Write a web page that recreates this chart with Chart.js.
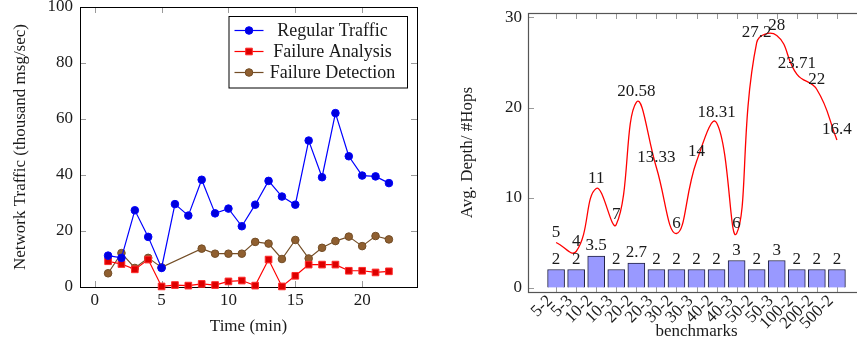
<!DOCTYPE html>
<html>
<head>
<meta charset="utf-8">
<script src="https://cdn.jsdelivr.net/npm/chart.js@4.4.1/dist/chart.umd.min.js"></script>
<style>
    html, body { margin: 0; padding: 0; background: #fff; overflow: hidden; width: 857px; height: 343px; }
    #trafficChart { position: absolute; left: 0; top: 0; }
    #depthChart { position: absolute; left: 440px; top: 0; }
</style>
</head>
<body>
<canvas id="trafficChart" width="430" height="343"></canvas>
<canvas id="depthChart" width="430" height="343"></canvas>
<script>
// ---- left chart data ----
const seriesNames = ['Regular Traffic', 'Failure Analysis', 'Failure Detection'];
const timeMin = [1, 2, 3, 4, 5, 6, 7, 8, 9, 10, 11, 12, 13, 14, 15, 16, 17, 18, 19, 20, 21, 22];
const regularTraffic = [11.2, 10.4, 27.4, 17.9, 6.8, 29.6, 25.5, 38.3, 26.3, 28.0, 21.7, 29.4, 37.9, 32.3, 29.4, 52.3, 39.2, 62.1, 46.7, 39.8, 39.5, 37.1];
const failureAnalysis = [9.2, 8.2, 6.3, 9.8, 0.2, 0.7, 0.5, 1.1, 0.7, 2.0, 2.3, 0.5, 9.8, 0.2, 4.0, 8.0, 8.0, 8.0, 5.8, 5.8, 5.2, 5.6];
const detectionMin = [1, 2, 3, 4, 5, 8, 9, 10, 11, 12, 13, 14, 15, 16, 17, 18, 19, 20, 21, 22];
const failureDetection = [4.9, 12.1, 6.8, 10.4, 7.0, 13.7, 11.9, 11.9, 11.9, 16.1, 15.5, 10.0, 16.8, 10.2, 14.0, 16.4, 18.0, 14.6, 18.2, 17.0];
const timeTicks = [0, 5, 10, 15, 20];
const trafficTicks = [0, 20, 40, 60, 80, 100];

// ---- right chart data ----
const benchmarks = ['5-2', '5-3', '10-2', '10-3', '20-2', '20-3', '30-2', '30-3', '40-2', '40-3', '50-2', '50-3', '100-2', '200-2', '500-2'];
const hops = [2, 2, 3.5, 2, 2.7, 2, 2, 2, 2, 3, 2, 3, 2, 2, 2];
const avgDepth = [5, 4, 11, 7, 20.58, 13.33, 6, 14, 18.31, 6, 27.2, 28, 23.71, 22, 16.4];
const depthTicks = [0, 10, 20, 30];

const SERIF = "'Liberation Serif', 'Times New Roman', serif";
const TXT = '#1a1a1a';

function pts(xs, ys) { return xs.map((x, i) => ({ x: x, y: ys[i] })); }
function setTicks(list) { return s => { s.ticks = list.map(v => ({ value: v })); }; }
function fixSize(w, h) {
    return s => {
        if (w != null) s.width = w;
        if (h != null) s.height = h;
        s.paddingTop = s.paddingBottom = s.paddingLeft = s.paddingRight = 0;
    };
}

// box frame + pgfplots style inner tick marks
const framePlugin = {
    id: 'frame',
    beforeDatasetsDraw(chart, args, opts) {
        const { ctx, chartArea: a, scales } = chart;
        ctx.save();
        ctx.lineWidth = 1;
        ctx.strokeStyle = opts.tickColor;
        ctx.beginPath();
        scales.x.ticks.forEach(t => {
            const px = Math.round(scales.x.getPixelForValue(t.value)) + 0.5;
            ctx.moveTo(px, a.top); ctx.lineTo(px, a.top + 6);
            ctx.moveTo(px, a.bottom); ctx.lineTo(px, a.bottom - 6);
        });
        scales.y.ticks.forEach(t => {
            const py = Math.round(scales.y.getPixelForValue(t.value)) + 0.5;
            ctx.moveTo(a.left, py); ctx.lineTo(a.left + 6, py);
            ctx.moveTo(a.right, py); ctx.lineTo(a.right - 6, py);
        });
        ctx.stroke();
        ctx.strokeStyle = opts.color;
        ctx.lineWidth = opts.width;
        ctx.strokeRect(a.left + 0.5, a.top + 0.5, a.right - a.left, a.bottom - a.top);
        ctx.restore();
    }
};

// legend box in the upper right corner of the traffic plot
const boxLegend = {
    id: 'boxLegend',
    afterDatasetsDraw(chart) {
        const { ctx, chartArea: a } = chart;
        const left = a.right - 188.5, top = a.top + 9, w = 178.5, h = 71.5;
        ctx.save();
        ctx.fillStyle = '#fff';
        ctx.fillRect(left, top, w, h);
        ctx.strokeStyle = '#000';
        ctx.lineWidth = 1;
        ctx.strokeRect(left + 0.5, top + 0.5, w, h);
        chart.data.datasets.forEach((ds, i) => {
            const y = top + 14.5 + i * 21;
            ctx.strokeStyle = ds.borderColor;
            ctx.lineWidth = ds.borderWidth;
            ctx.beginPath();
            ctx.moveTo(left + 6, y); ctx.lineTo(left + 35, y);
            ctx.stroke();
            ctx.fillStyle = ds.pointBackgroundColor;
            ctx.strokeStyle = ds.pointBorderColor;
            ctx.lineWidth = 1;
            Chart.helpers.drawPoint(ctx, { pointStyle: ds.pointStyle, radius: ds.pointRadius, rotation: 0, borderWidth: 1 }, left + 20.5, y);
            ctx.fillStyle = TXT;
            ctx.font = '18px ' + SERIF;
            ctx.textAlign = 'center';
            ctx.textBaseline = 'middle';
            ctx.fillText(seriesNames[i], left + 104, y + 1);
        });
        ctx.restore();
    }
};

// value labels above bars and curve points
const valueLabels = {
    id: 'valueLabels',
    afterDatasetsDraw(chart) {
        const { ctx } = chart;
        ctx.save();
        ctx.fillStyle = TXT;
        ctx.font = '17px ' + SERIF;
        ctx.textAlign = 'center';
        ctx.textBaseline = 'alphabetic';
        chart.data.datasets.forEach((ds, i) => {
            const meta = chart.getDatasetMeta(i);
            meta.data.forEach((el, j) => {
                ctx.fillText(String(ds.data[j].y), el.x, el.y - 6);
            });
        });
        ctx.restore();
    }
};

function initTrafficChart() {
    const ctx = document.getElementById('trafficChart').getContext('2d');
    new Chart(ctx, {
        type: 'line',
        data: {
            datasets: [{
                label: seriesNames[0],
                data: pts(timeMin, regularTraffic),
                borderColor: '#0000ff',
                borderWidth: 1.2,
                pointStyle: 'circle',
                pointRadius: 3.8,
                pointBackgroundColor: '#0000dd',
                pointBorderColor: '#0000ff',
                pointBorderWidth: 1,
                clip: false
            }, {
                label: seriesNames[1],
                data: pts(timeMin, failureAnalysis),
                borderColor: '#ff0000',
                borderWidth: 1.2,
                pointStyle: 'rect',
                pointRadius: 4.7,
                pointBackgroundColor: '#dd0000',
                pointBorderColor: '#ff2a2a',
                pointBorderWidth: 1,
                clip: false
            }, {
                label: seriesNames[2],
                data: pts(detectionMin, failureDetection),
                borderColor: '#734d26',
                borderWidth: 1.2,
                pointStyle: 'circle',
                pointRadius: 3.8,
                pointBackgroundColor: '#8f5f30',
                pointBorderColor: '#734d26',
                pointBorderWidth: 1,
                clip: false
            }]
        },
        options: {
            responsive: false,
            animation: false,
            layout: { padding: { top: 7, right: 13, left: 0, bottom: 0 } },
            scales: {
                x: {
                    type: 'linear', min: -1.1, max: 24.1,
                    grid: { display: false, drawTicks: false },
                    border: { display: false },
                    afterBuildTicks: setTicks(timeTicks),
                    afterFit: fixSize(null, 56),
                    ticks: { padding: 3, maxRotation: 0, color: TXT, font: { family: SERIF, size: 17 } },
                    title: { display: true, text: 'Time (min)', color: TXT, font: { family: SERIF, size: 17 }, padding: { top: 0, bottom: 6 } }
                },
                y: {
                    min: 0, max: 100,
                    grid: { display: false, drawTicks: false },
                    border: { display: false },
                    afterBuildTicks: setTicks(trafficTicks),
                    afterFit: fixSize(80, null),
                    ticks: { padding: 7, color: TXT, font: { family: SERIF, size: 17 } },
                    title: { display: true, text: 'Network Traffic (thousand msg/sec)', color: TXT, font: { family: SERIF, size: 17 }, padding: { top: 10, bottom: 0 } }
                }
            },
            plugins: {
                legend: { display: false },
                tooltip: { enabled: false },
                frame: { color: '#000', tickColor: '#9a9a9a', width: 1 }
            }
        },
        plugins: [framePlugin, boxLegend]
    });
}

function initDepthChart() {
    const ctx = document.getElementById('depthChart').getContext('2d');
    new Chart(ctx, {
        type: 'bar',
        data: {
            datasets: [{
                type: 'line',
                label: 'Avg. Depth',
                data: pts(benchmarks.map((b, i) => i), avgDepth),
                borderColor: '#ff0000',
                borderWidth: 1.3,
                pointRadius: 0,
                tension: 0.45,
                clip: false,
                order: 0
            }, {
                type: 'bar',
                label: '#Hops',
                data: pts(benchmarks.map((b, i) => i), hops),
                backgroundColor: '#9999ff',
                borderColor: '#202040',
                borderWidth: 1,
                barThickness: 17,
                order: 1
            }]
        },
        options: {
            responsive: false,
            animation: false,
            layout: { padding: { top: 13, right: 5, left: 0, bottom: 0 } },
            scales: {
                x: {
                    type: 'linear', min: -1.4, max: 15.4,
                    offset: false,
                    grid: { display: false, drawTicks: false, offset: false },
                    border: { display: false },
                    afterBuildTicks: setTicks(benchmarks.map((b, i) => i)),
                    afterFit: fixSize(null, 51),
                    ticks: {
                        callback: v => benchmarks[v],
                        autoSkip: false,
                        minRotation: 45, maxRotation: 45,
                        padding: -1, labelOffset: -6,
                        color: TXT, font: { family: SERIF, size: 17 }
                    },
                    title: { display: true, text: 'benchmarks', color: TXT, font: { family: SERIF, size: 17 }, padding: { top: 0, bottom: 1 } }
                },
                y: {
                    min: -0.5, max: 30.5,
                    grid: { display: false, drawTicks: false },
                    border: { display: false },
                    afterBuildTicks: setTicks(depthTicks),
                    afterFit: fixSize(88, null),
                    ticks: { padding: 6, color: TXT, font: { family: SERIF, size: 17 } },
                    title: { display: true, text: 'Avg. Depth/ #Hops', color: TXT, font: { family: SERIF, size: 17 }, padding: { top: 17, bottom: 0 } }
                }
            },
            plugins: {
                legend: { display: false },
                tooltip: { enabled: false },
                frame: { color: '#555', tickColor: '#9a9a9a', width: 1.2 }
            }
        },
        plugins: [framePlugin, valueLabels]
    });
}

initTrafficChart();
initDepthChart();
</script>
</body>
</html>
